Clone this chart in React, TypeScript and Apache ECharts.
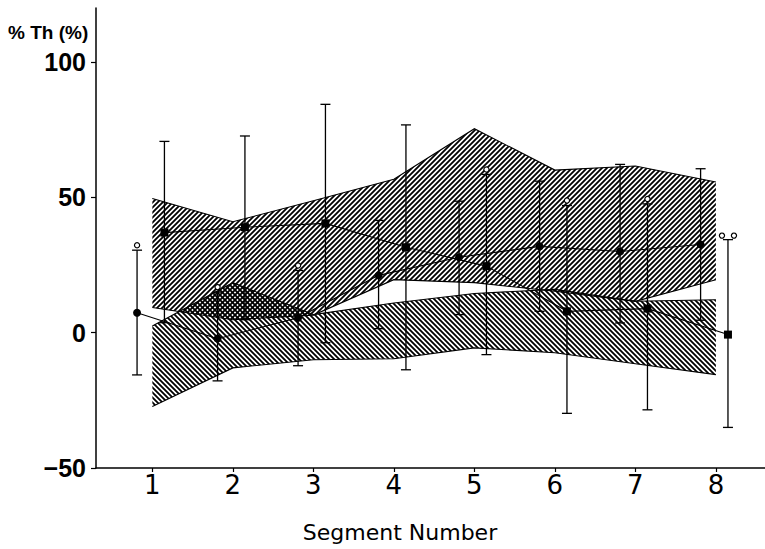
import React, { useEffect, useRef } from 'react';
import * as echarts from 'echarts';

// ---- data ----
const segments = [1, 2, 3, 4, 5, 6, 7, 8];
const xTickLabels = ['1', '2', '3', '4', '5', '6', '7', '8'];
const yTicks = [-50, 0, 50, 100];

// upper band ("/" hatching)
const upperBandLow = [9.3, 4.8, 6.5, 19.6, 18.5, 15.3, 11.6, 19.6];
const upperBandHigh = [49.6, 41, 48.8, 56.7, 75.4, 60.1, 61.6, 55.7];
// lower band ("\" hatching)
const lowerBandLow = [-27.3, -13, -10, -9.6, -5.6, -7.4, -11.5, -15.5];
const lowerBandHigh = [2.5, 18.5, 6.7, 11, 14.5, 16, 11.6, 12.2];

// circle series (left of each segment)
const circleMean = [7.4, -2.2, 5.5, 21.2, 27.9, 31.9, 30, 32.6];
const circleHigh = [30.5, 15, 23, 41.5, 48.6, 56, 62.2, 60.6];
const circleLow = [-15.6, -17.8, -12.2, 1.5, 6.7, 7.9, 3.6, 4.6];
const circleSig = [1, 1, 1, 0, 0, 0, 0, 0];

// square series (right of each segment)
const squareMean = [37, 39, 40.4, 31.6, 24.6, 7.9, 8.9, -0.7];
const squareHigh = [70.7, 72.7, 84.4, 76.8, 58.5, 47, 47.6, 34.4];
const squareLow = [3.7, 4.8, -3.7, -13.7, -8.1, -29.8, -28.5, -35];
const squareSig = [0, 0, 0, 0, 1, 1, 1, 2];

const circleOffset = -0.19;
const squareOffset = 0.15;

function makeHatch(dir: 'fwd' | 'back') {
  const c = document.createElement('canvas');
  c.width = 10;
  c.height = 10;
  const ctx = c.getContext('2d')!;
  ctx.strokeStyle = '#000';
  ctx.lineWidth = 1.8;
  ctx.beginPath();
  if (dir === 'fwd') {
    for (const k of [0, 5, 10, 15, 20]) {
      ctx.moveTo(k - 12, 12);
      ctx.lineTo(k + 2, -2);
    }
  } else {
    for (const k of [-10, -5, 0, 5, 10]) {
      ctx.moveTo(k - 2, -2);
      ctx.lineTo(k + 12, 12);
    }
  }
  ctx.stroke();
  return c;
}

function bandSeries(name: string, low: number[], high: number[], pattern: HTMLCanvasElement, z: number) {
  return {
    name,
    type: 'custom',
    z,
    data: segments.map((s, i) => [s, low[i], high[i]]),
    encode: { x: 0, y: [1, 2] },
    renderItem: (params: any, api: any) => {
      if (params.dataIndex !== 0) return { type: 'group', children: [] };
      const top = segments.map((s, i) => api.coord([s, high[i]]));
      const bot = segments.map((s, i) => api.coord([s, low[i]]));
      const poly = top.concat(bot.slice().reverse());
      return {
        type: 'group',
        children: [
          {
            type: 'polygon',
            shape: { points: poly },
            style: { fill: { image: pattern, repeat: 'repeat', imageWidth: 10, imageHeight: 10 }, stroke: null },
          },
          { type: 'polyline', shape: { points: top }, style: { stroke: '#000', lineWidth: 1.1, fill: null } },
          { type: 'polyline', shape: { points: bot }, style: { stroke: '#000', lineWidth: 1.1, fill: null } },
        ],
      };
    },
  };
}

function errorBarSeries(name: string, offset: number, lo: number[], hi: number[], sig: number[]) {
  return {
    name,
    type: 'custom',
    z: 4,
    data: segments.map((s, i) => [s + offset, lo[i], hi[i], sig[i]]),
    encode: { x: 0, y: [1, 2] },
    renderItem: (params: any, api: any) => {
      const x = api.value(0);
      const pLo = api.coord([x, api.value(1)]);
      const pHi = api.coord([x, api.value(2)]);
      const s = api.value(3);
      const hw = 5;
      const st = { stroke: '#000', lineWidth: 1.3 };
      const children: any[] = [
        { type: 'line', shape: { x1: pLo[0], y1: pLo[1], x2: pHi[0], y2: pHi[1] }, style: st },
        { type: 'line', shape: { x1: pHi[0] - hw, y1: pHi[1], x2: pHi[0] + hw, y2: pHi[1] }, style: st },
        { type: 'line', shape: { x1: pLo[0] - hw, y1: pLo[1], x2: pLo[0] + hw, y2: pLo[1] }, style: st },
      ];
      const cst = { fill: '#fff', stroke: '#000', lineWidth: 1.2 };
      if (s === 1) {
        children.push({ type: 'circle', shape: { cx: pHi[0], cy: pHi[1] - 5, r: 2.6 }, style: cst });
      } else if (s === 2) {
        children.push({ type: 'circle', shape: { cx: pHi[0] - 6, cy: pHi[1] - 4, r: 2.6 }, style: cst });
        children.push({ type: 'circle', shape: { cx: pHi[0] + 6, cy: pHi[1] - 4, r: 2.6 }, style: cst });
      }
      return { type: 'group', children };
    },
  };
}

export default function App() {
  const ref = useRef<HTMLDivElement>(null);
  useEffect(() => {
    if (!ref.current) return;
    const chart = echarts.init(ref.current, null, { renderer: 'svg' });
    const fwd = makeHatch('fwd');
    const back = makeHatch('back');
    const lineBlack = { color: '#000', width: 1.1 };

    const option: any = {
      animation: false,
      backgroundColor: '#fff',
      grid: { left: 96, right: 0, top: 8, bottom: 81, containLabel: false, outerBoundsMode: 'none' },
      xAxis: {
        type: 'value',
        min: 0.3,
        max: 8.61,
        axisLine: { show: true, onZero: false, lineStyle: { color: '#000', width: 1.5 } },
        axisTick: { show: true, customValues: segments, length: 4, lineStyle: { color: '#000', width: 1.2 } },
        axisLabel: {
          customValues: segments,
          formatter: (v: number) => xTickLabels[Math.round(v) - 1] ?? '',
          color: '#000',
          fontSize: 26,
          fontFamily: 'DejaVu Sans',
          margin: 4,
        },
        splitLine: { show: false },
      },
      yAxis: {
        type: 'value',
        min: -50,
        max: 120,
        interval: 50,
        axisLine: { show: true, onZero: false, lineStyle: { color: '#000', width: 1.5 } },
        axisTick: { show: true, customValues: yTicks, length: 5, lineStyle: { color: '#000', width: 1.2 } },
        axisLabel: {
          customValues: yTicks,
          formatter: (v: number) => (v < 0 ? '\u2212' + Math.abs(v) : String(v)),
          color: '#000',
          fontSize: 25,
          fontWeight: 'bold',
          fontFamily: "'Liberation Sans', sans-serif",
          margin: 10,
        },
        splitLine: { show: false },
      },
      graphic: [
        {
          type: 'text',
          style: {
            x: 8,
            y: 32,
            text: '% Th (%)',
            fontSize: 19,
            fontWeight: 'bold',
            fontFamily: "'Liberation Sans', sans-serif",
            fill: '#000',
            verticalAlign: 'middle',
          },
        },
        {
          type: 'text',
          style: {
            x: 400,
            y: 532,
            text: 'Segment Number',
            fontSize: 22,
            fontFamily: 'DejaVu Sans',
            fill: '#000',
            align: 'center',
            verticalAlign: 'middle',
          },
        },
      ],
      series: [
        bandSeries('lowerBand', lowerBandLow, lowerBandHigh, back, 1),
        bandSeries('upperBand', upperBandLow, upperBandHigh, fwd, 2),
        errorBarSeries('circleErr', circleOffset, circleLow, circleHigh, circleSig),
        errorBarSeries('squareErr', squareOffset, squareLow, squareHigh, squareSig),
        {
          name: 'circles',
          type: 'line',
          z: 5,
          symbol: 'circle',
          symbolSize: 8,
          itemStyle: { color: '#000' },
          lineStyle: lineBlack,
          data: segments.map((s, i) => [s + circleOffset, circleMean[i]]),
        },
        {
          name: 'squares',
          type: 'line',
          z: 5,
          symbol: 'rect',
          symbolSize: 8,
          itemStyle: { color: '#000' },
          lineStyle: lineBlack,
          data: segments.map((s, i) => [s + squareOffset, squareMean[i]]),
        },
      ],
    };
    chart.setOption(option);
    return () => chart.dispose();
  }, []);
  return (
    <div
      ref={ref}
      style={{ position: 'fixed', left: 0, top: 0, width: 765, height: 549, background: '#fff' }}
    />
  );
}
